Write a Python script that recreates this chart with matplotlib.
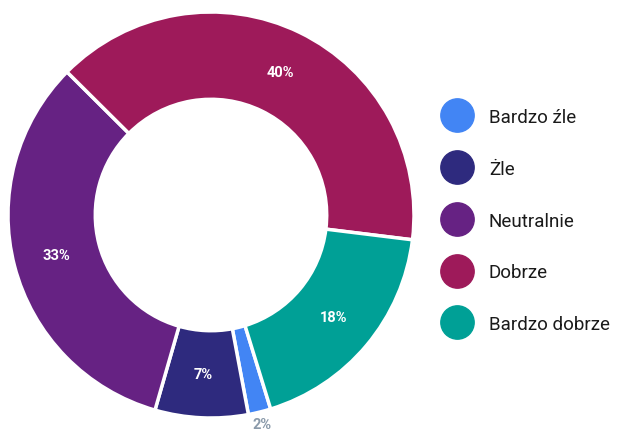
import matplotlib
matplotlib.use("Agg")
import matplotlib.pyplot as plt
from matplotlib.lines import Line2D
import numpy as np

# data, clockwise order starting from the small blue slice
labels = ["Bardzo źle", "Żle", "Neutralnie", "Dobrze", "Bardzo dobrze"]
values = [1.8, 7.4, 33.0, 39.5, 18.3]
pct_labels = ["2%", "7%", "33%", "40%", "18%"]
colors = ["#4285F4", "#2E2A7E", "#662283", "#9E1A5A", "#00A096"]

plt.rcParams["font.family"] = ["Roboto", "DejaVu Sans"]

fig = plt.figure(figsize=(6.19, 4.31), dpi=100)
ax = fig.add_axes([8 / 619, 12 / 431, 406 / 619, 406 / 431])

wedges, _ = ax.pie(values, colors=colors, startangle=-72.9, counterclock=False,
                   radius=1.0,
                   wedgeprops=dict(width=0.43, edgecolor="white", linewidth=2.5))

for w, txt in zip(wedges, pct_labels):
    ang = np.deg2rad((w.theta1 + w.theta2) / 2)
    if txt == "2%":
        r = 1.06
        ax.text(r * np.cos(ang), r * np.sin(ang), txt, ha="center", va="center",
                fontsize=10.5, fontweight="bold", color="#8A9AAA", clip_on=False)
    else:
        r = 0.785
        ax.text(r * np.cos(ang), r * np.sin(ang), txt, ha="center", va="center",
                fontsize=10.5, fontweight="bold", color="white")

ax.set_xlim(-1, 1)
ax.set_ylim(-1, 1)
ax.set_aspect("equal")
ax.axis("off")

handles = [Line2D([], [], marker="o", linestyle="none", markersize=24,
                  markerfacecolor=c, markeredgecolor=c) for c in colors]
fig.legend(handles, labels, loc="center left", bbox_to_anchor=(441 / 619, 0.486),
           frameon=False, fontsize=13.5, borderpad=0, borderaxespad=0,
           handlelength=1.75, handletextpad=0.8, labelspacing=1.8,
           labelcolor="#1a1a1a")

fig.savefig("out.png", dpi=100)
